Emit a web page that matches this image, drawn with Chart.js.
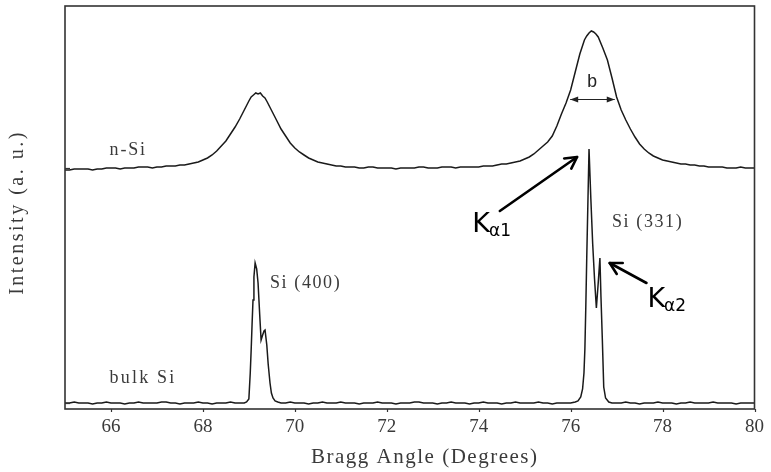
<!DOCTYPE html>
<html>
<head>
<meta charset="utf-8">
<script src="https://cdn.jsdelivr.net/npm/chart.js@4/dist/chart.umd.min.js"></script>
<style>
  html, body { margin: 0; padding: 0; background: #fff; }
  #wrap { width: 771px; height: 472px; }
</style>
</head>
<body>
<div id="wrap"><canvas id="c" width="771" height="472"></canvas></div>
<script>
// ---- Data (Bragg angle in degrees, intensity in arbitrary units) ----
const nSiAngles = [
65.0,65.1,65.2,65.3,65.4,65.5,65.6,65.7,65.8,65.9,
66.0,66.1,66.2,66.3,66.4,66.5,66.6,66.7,66.8,66.9,
67.0,67.1,67.2,67.3,67.4,67.5,67.6,67.7,67.8,67.9,
68.0,68.1,68.2,68.3,68.4,68.5,68.6,68.7,68.8,68.9,
69.0,69.05,69.1,69.15,69.2,69.25,69.3,69.35,69.4,69.5,69.6,69.7,69.8,69.9,
70.0,70.1,70.2,70.3,70.4,70.5,70.6,70.7,70.8,70.9,
71.0,71.1,71.2,71.3,71.4,71.5,71.6,71.7,71.8,71.9,
72.0,72.1,72.2,72.3,72.4,72.5,72.6,72.7,72.8,72.9,
73.0,73.1,73.2,73.3,73.4,73.5,73.6,73.7,73.8,73.9,
74.0,74.1,74.2,74.3,74.4,74.5,74.6,74.7,74.8,74.9,
75.0,75.1,75.2,75.3,75.4,75.5,75.6,75.7,75.8,75.9,
76.0,76.1,76.2,76.3,76.35,76.4,76.45,76.5,76.55,76.6,76.7,76.8,76.9,
77.0,77.1,77.2,77.3,77.4,77.5,77.6,77.7,77.8,77.9,
78.0,78.1,78.2,78.3,78.4,78.5,78.6,78.7,78.8,78.9,
79.0,79.1,79.2,79.3,79.4,79.5,79.6,79.7,79.8,79.9,
80.0];
const nSiValues = [
239,239,240,240,240,240,239,240,240,241,
241,241,240,241,241,241,242,242,242,241,
242,242,243,243,243,244,244,245,246,247,
249,251,254,258,263,268,275,282,290,299,
308,312,314,316,315,316,313,311,307,298,289,280,273,266,
261,257,254,251,249,247,246,245,244,243,
243,242,242,242,241,241,242,242,241,241,
241,241,240,241,241,241,241,242,242,241,
241,241,242,242,242,241,242,242,242,242,
242,243,243,243,244,245,245,246,247,248,
250,252,255,259,263,267,273,283,295,306,
319,337,355,369,373,376,378,377,375,372,361,349,331,
312,299,289,280,272,265,260,256,253,251,
249,248,247,246,245,245,244,244,243,243,
242,242,242,242,241,241,241,242,241,241,
241];

const bulkAngles = [
65.0,65.1,65.2,65.3,65.4,65.5,65.6,65.7,65.8,65.9,
66.0,66.1,66.2,66.3,66.4,66.5,66.6,66.7,66.8,66.9,
67.0,67.1,67.2,67.3,67.4,67.5,67.6,67.7,67.8,67.9,
68.0,68.1,68.2,68.3,68.4,68.5,68.6,68.7,68.8,68.9,
68.95,69.0,69.03,69.05,69.07,69.09,69.11,69.136,69.17,69.2,69.235,69.266,
69.3,69.33,69.352,69.39,69.42,69.46,69.49,69.525,69.57,69.63,
69.7,69.8,69.9,
70.0,70.1,70.2,70.3,70.4,70.5,70.6,70.7,70.8,70.9,
71.0,71.1,71.2,71.3,71.4,71.5,71.6,71.7,71.8,71.9,
72.0,72.1,72.2,72.3,72.4,72.5,72.6,72.7,72.8,72.9,
73.0,73.1,73.2,73.3,73.4,73.5,73.6,73.7,73.8,73.9,
74.0,74.1,74.2,74.3,74.4,74.5,74.6,74.7,74.8,74.9,
75.0,75.1,75.2,75.3,75.4,75.5,75.6,75.7,75.8,75.9,
76.0,76.1,
76.16,76.22,76.26,76.29,76.31,76.33,76.35,76.375,76.4,76.44,76.48,76.52,76.56,
76.6,76.637,76.66,76.69,76.72,76.76,76.83,
76.9,
77.0,77.1,77.2,77.3,77.4,77.5,77.6,77.7,77.8,77.9,
78.0,78.1,78.2,78.3,78.4,78.5,78.6,78.7,78.8,78.9,
79.0,79.1,79.2,79.3,79.4,79.5,79.6,79.7,79.8,79.9,
80.0];
const bulkValues = [
6,6,7,6,6,6,5,6,6,7,
6,6,6,5,6,6,7,6,6,6,
6,7,7,6,6,5,6,6,6,7,
6,6,5,6,6,6,7,6,6,6,
7,10,36,59,85,109,132,146,140,126,95,69,
74,78,79,64,45,26,16,11,8,7,
6,6,7,
6,6,6,5,6,6,7,6,6,6,
7,6,6,6,5,6,6,6,7,6,
6,6,5,6,6,6,7,7,6,6,
6,5,6,6,7,6,6,6,5,6,
6,7,6,6,6,5,6,6,7,6,
6,6,6,7,6,6,5,6,6,6,
6,7,
8,12,20,36,60,102,150,205,260,210,165,130,101,
126,151,112,69,22,11,7,
6,
6,6,7,6,6,5,6,6,6,7,
6,6,6,5,6,6,7,6,6,6,
6,7,6,6,6,6,5,6,6,6,
6];

const xTickValues = [66, 68, 70, 72, 74, 76, 78, 80];
const yMarkValues = [241, 6];   // small inward marks on the left axis (baselines)

// Text labels placed in data coordinates
const labels = [
  { text: 'n-Si',     x: 65.97, y: 259, spacing: 1.8 },
  { text: 'bulk Si',  x: 65.97, y: 31,  spacing: 2.2 },
  { text: 'Si (400)', x: 69.46, y: 126, spacing: 1.6 },
  { text: 'Si (331)', x: 76.9,  y: 187, spacing: 1.6 }
];

const C = { line: '#1a1a1a', frame: '#333', text: '#3a3a3a' };

const annotPlugin = {
  id: 'annot',
  afterDraw(chart) {
    const ctx = chart.ctx;
    const xs = chart.scales.x, ys = chart.scales.y;
    const ca = chart.chartArea;
    const X = v => xs.getPixelForValue(v), Y = v => ys.getPixelForValue(v);
    ctx.save();
    // frame
    ctx.strokeStyle = C.frame; ctx.lineWidth = 1.6;
    ctx.strokeRect(ca.left, ca.top, ca.right - ca.left, ca.bottom - ca.top);
    // x tick marks (outward)
    ctx.lineWidth = 1.2;
    xTickValues.forEach(t => {
      const px = Math.round(X(t)) + 0.5;
      ctx.beginPath(); ctx.moveTo(px, ca.bottom); ctx.lineTo(px, ca.bottom + 3); ctx.stroke();
    });
    // y marks (inward)
    yMarkValues.forEach(t => {
      const py = Math.round(Y(t)) + 0.5;
      ctx.beginPath(); ctx.moveTo(ca.left, py); ctx.lineTo(ca.left + 5, py); ctx.stroke();
    });

    // axis titles
    ctx.fillStyle = C.text;
    ctx.textAlign = 'center'; ctx.textBaseline = 'middle';
    ctx.font = '21px "Liberation Serif"';
    ctx.letterSpacing = '1.5px';
    ctx.fillText('Bragg Angle (Degrees)', (ca.left + ca.right) / 2 + 15, 457);
    ctx.save();
    ctx.translate(18, (ca.top + ca.bottom) / 2 + 5);
    ctx.rotate(-Math.PI / 2);
    ctx.font = '20px "Liberation Serif"';
    ctx.letterSpacing = '2.5px';
    ctx.fillText('Intensity (a. u.)', 0, 0);
    ctx.restore();

    // series / peak labels
    ctx.textAlign = 'left';
    ctx.font = '18px "Liberation Serif"';
    labels.forEach(l => {
      ctx.letterSpacing = l.spacing + 'px';
      ctx.fillText(l.text, X(l.x), Y(l.y));
    });
    ctx.letterSpacing = '0px';

    // FWHM "b" with double arrow
    ctx.fillStyle = '#222';
    ctx.textAlign = 'center';
    ctx.font = '18px "Liberation Mono"';
    ctx.fillText('b', X(76.47), Y(327));
    const ay = Math.round(Y(310)) + 0.5, ax1 = X(75.99), ax2 = X(76.96);
    ctx.strokeStyle = '#222'; ctx.lineWidth = 1;
    ctx.beginPath(); ctx.moveTo(ax1, ay); ctx.lineTo(ax2, ay); ctx.stroke();
    ctx.beginPath();
    ctx.moveTo(ax1, ay); ctx.lineTo(ax1 + 8, ay - 3); ctx.lineTo(ax1 + 8, ay + 3); ctx.closePath();
    ctx.moveTo(ax2, ay); ctx.lineTo(ax2 - 8, ay - 3); ctx.lineTo(ax2 - 8, ay + 3); ctx.closePath();
    ctx.fillStyle = '#222'; ctx.fill();

    // K alpha labels
    ctx.fillStyle = '#000';
    ctx.textAlign = 'left'; ctx.textBaseline = 'alphabetic';
    const kLabel = (x, y, sub) => {
      ctx.font = '27px "DejaVu Sans"';
      const px = X(x), py = Y(y);
      ctx.fillText('K', px, py);
      const w = ctx.measureText('K').width;
      ctx.font = '17px "DejaVu Sans"';
      ctx.fillText('\u03b1' + sub, px + w - 1, py + 4);
    };
    kLabel(73.86, 177, '1');
    kLabel(77.67, 102, '2');

    // arrows
    const arrow = (x1, y1, x2, y2) => {
      const p1 = [X(x1), Y(y1)], p2 = [X(x2), Y(y2)];
      const ang = Math.atan2(p2[1] - p1[1], p2[0] - p1[0]);
      ctx.strokeStyle = '#000'; ctx.lineWidth = 2.6; ctx.lineCap = 'round'; ctx.lineJoin = 'round';
      ctx.beginPath(); ctx.moveTo(p1[0], p1[1]); ctx.lineTo(p2[0], p2[1]); ctx.stroke();
      const hl = 13, ha = 0.5;
      ctx.beginPath();
      ctx.moveTo(p2[0] - hl * Math.cos(ang - ha), p2[1] - hl * Math.sin(ang - ha));
      ctx.lineTo(p2[0], p2[1]);
      ctx.lineTo(p2[0] - hl * Math.cos(ang + ha), p2[1] - hl * Math.sin(ang + ha));
      ctx.stroke();
    };
    arrow(74.46, 198, 76.14, 252);
    arrow(77.65, 126, 76.85, 146);
    ctx.restore();
  }
};

const toPts = (xs, ys) => xs.map((x, i) => ({ x: x, y: ys[i] }));

new Chart(document.getElementById('c'), {
  type: 'line',
  data: {
    datasets: [
      { label: 'n-Si', data: toPts(nSiAngles, nSiValues), borderColor: C.line, borderWidth: 1.5, pointRadius: 0, tension: 0, fill: false },
      { label: 'bulk Si', data: toPts(bulkAngles, bulkValues), borderColor: C.line, borderWidth: 1.5, pointRadius: 0, tension: 0, fill: false }
    ]
  },
  options: {
    responsive: false,
    devicePixelRatio: 1,
    animation: false,
    layout: { padding: { left: 0, right: 10, top: 6, bottom: 0 } },
    plugins: { legend: { display: false }, tooltip: { enabled: false } },
    scales: {
      x: {
        type: 'linear', min: 65, max: 80,
        afterBuildTicks: s => { s.ticks = xTickValues.map(v => ({ value: v })); },
        afterFit: s => { s.height = 63; },
        grid: { display: false, drawTicks: false },
        border: { display: false },
        ticks: { color: '#3a3a3a', font: { family: 'Liberation Serif', size: 19 }, padding: 7, maxRotation: 0 }
      },
      y: {
        min: 0, max: 403,
        afterFit: s => { s.width = 65; },
        grid: { display: false },
        border: { display: false },
        ticks: { display: false }
      }
    }
  },
  plugins: [annotPlugin]
});
</script>
</body>
</html>
